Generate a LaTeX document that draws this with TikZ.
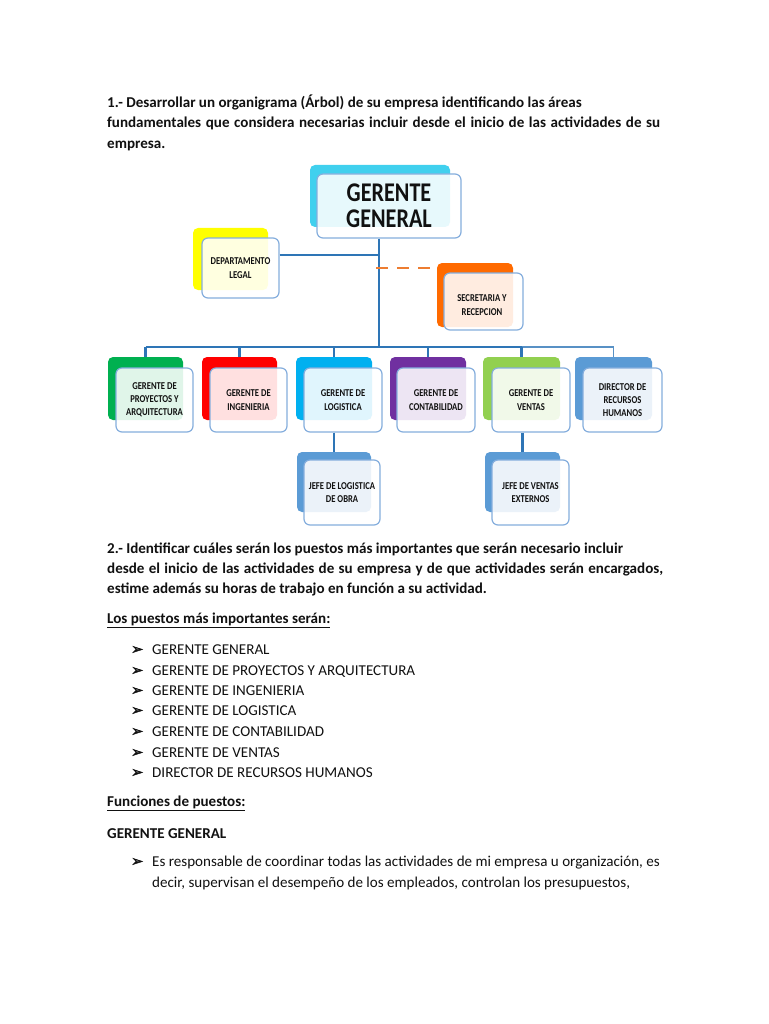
\documentclass[tikz,border=0pt]{standalone}
\usepackage{fontspec}
\setmainfont{Carlito}
\newfontfamily\dejavu[FakeBold=2.5]{DejaVu Sans}
\newfontfamily\condfont[FakeStretch=0.82]{Carlito}
\definecolor{cgg}{HTML}{40D0EE}
\definecolor{cyellow}{HTML}{FFFF00}
\definecolor{corange}{HTML}{FF6A00}
\definecolor{cgreen}{HTML}{00B050}
\definecolor{cred}{HTML}{FF0000}
\definecolor{cblue}{HTML}{00B0F0}
\definecolor{cpurple}{HTML}{7030A0}
\definecolor{clgreen}{HTML}{92D050}
\definecolor{csteel}{HTML}{5B9BD5}
\definecolor{cline}{HTML}{2E75B6}
\definecolor{cborder}{HTML}{85AEDD}
\definecolor{cdash}{HTML}{ED7D31}
\definecolor{ctext}{HTML}{111111}
\begin{document}
\begin{tikzpicture}[x=1pt,y=-1pt,
  backbox/.style={rounded corners=5pt, inner sep=0pt, draw=none},
  frontbox/.style={draw=cborder, line width=1.2pt, fill=white, fill opacity=0.88, text opacity=1,
    rounded corners=6pt, align=center, inner sep=1pt, text=ctext,
    font=\condfont\bfseries\fontsize{10.5}{13.2}\selectfont},
  conn/.style={draw=cline, line width=2.6pt},
  connthin/.style={draw=cline!80, line width=1.6pt},
  dashconn/.style={draw=cdash, line width=1.8pt, dash pattern=on 12pt off 9pt},
  txt/.style={anchor=base west, inner sep=0pt, text=ctext, font=\fontsize{15.06}{18}\selectfont},
  btxt/.style={txt, font=\bfseries\fontsize{15.06}{18}\selectfont},
  bul/.style={anchor=base west, inner sep=0pt, text=ctext, font=\dejavu\fontsize{14.5}{16}\selectfont}
]
\useasboundingbox (0,0) rectangle (768,1024);
\fill[white] (0,0) rectangle (768,1024);

% ---------- header text ----------
\node[btxt] (p1a) at (107,108) {1.- Desarrollar un organigrama (Árbol) de su empresa identificando las áreas};
\node[btxt] (p1b) at (107,128) {\makebox[553pt][s]{fundamentales que considera necesarias incluir desde el inicio de las actividades de su}};
\node[btxt] (p1c) at (107,149) {empresa.};

% ---------- back boxes ----------
\node[backbox, fill=cgg, minimum width=140pt, minimum height=62pt] (ggback) at (380,196) {};
\node[backbox, fill=cyellow, minimum width=75pt, minimum height=62pt] (legalback) at (230.5,259) {};
\node[backbox, fill=corange, minimum width=76pt, minimum height=64pt] (secback) at (475,295) {};
\node[backbox, fill=cgreen, minimum width=75pt, minimum height=63pt] (b1back) at (145.5,388.5) {};
\node[backbox, fill=cred, minimum width=75pt, minimum height=63pt] (b2back) at (239.5,388.5) {};
\node[backbox, fill=cblue, minimum width=76pt, minimum height=63pt] (b3back) at (334,388.5) {};
\node[backbox, fill=cpurple, minimum width=76pt, minimum height=63pt] (b4back) at (428,388.5) {};
\node[backbox, fill=clgreen, minimum width=77pt, minimum height=63pt] (b5back) at (521.5,388.5) {};
\node[backbox, fill=csteel, minimum width=77pt, minimum height=63pt] (b6back) at (613.5,388.5) {};
\node[backbox, fill=csteel, minimum width=74pt, minimum height=60pt] (c1back) at (334,482) {};
\node[backbox, fill=csteel, minimum width=75pt, minimum height=60pt] (c2back) at (522.5,482) {};

% ---------- front boxes ----------
\node[frontbox, minimum width=144pt, minimum height=64pt,
  font=\condfont\bfseries\fontsize{27}{26}\selectfont] (gg) at (389,206) {GERENTE\\GENERAL};
\node[frontbox, minimum width=77pt, minimum height=60pt] (legal) at (240.5,268) {DEPARTAMENTO\\LEGAL};
\node[frontbox, minimum width=79pt, minimum height=57pt] (sec) at (483.5,301.5) {};
\node[inner sep=0pt, align=center, text=ctext, font=\condfont\bfseries\fontsize{10.5}{13.2}\selectfont] (sectext) at (482,305) {SECRETARIA Y\\RECEPCION};
\node[frontbox, minimum width=77pt, minimum height=64pt] (b1) at (154.5,400) {GERENTE DE\\PROYECTOS Y\\ARQUITECTURA};
\node[frontbox, minimum width=77pt, minimum height=64pt] (b2) at (248.5,400) {GERENTE DE\\INGENIERIA};
\node[frontbox, minimum width=78pt, minimum height=64pt] (b3) at (343,400) {GERENTE DE\\LOGISTICA};
\node[frontbox, minimum width=78pt, minimum height=64pt] (b4) at (436,400) {GERENTE DE\\CONTABILIDAD};
\node[frontbox, minimum width=78pt, minimum height=64pt] (b5) at (531,400) {GERENTE DE\\VENTAS};
\node[frontbox, minimum width=79pt, minimum height=64pt] (b6) at (622.5,400) {DIRECTOR DE\\RECURSOS\\HUMANOS};
\node[frontbox, minimum width=76pt, minimum height=65pt] (c1) at (342,492.5) {JEFE DE LOGISTICA\\DE OBRA};
\node[frontbox, minimum width=77pt, minimum height=65pt] (c2) at (530.5,492.5) {JEFE DE VENTAS\\EXTERNOS};

% ---------- connectors ----------
\coordinate (trunk) at (379,347);
\coordinate (jl) at (379,255);
\coordinate (jd) at (376,268);
\draw[conn, line width=2.2pt] (gg.south -| trunk) -- (trunk);
\draw[conn, line width=2pt] (legal.east |- jl) -- (jl);
\draw[dashconn] (jd) -- (secback.west |- jd);
\draw[conn] (b1back.north |- trunk) -- (b5back.north |- trunk);
\draw[connthin] (b5back.north |- trunk) -- (b6back.north |- trunk) -- (b6back.north);
\draw[conn] (b1back.north |- trunk) -- (b1back.north);
\draw[conn] (b2back.north |- trunk) -- (b2back.north);
\draw[conn] (b3back.north |- trunk) -- (b3back.north);
\draw[conn] (b4back.north |- trunk) -- (b4back.north);
\draw[conn] (b5back.north |- trunk) -- (b5back.north);
\draw[conn] (c1back.north |- b3.south) -- (c1back.north);
\draw[conn] (c2back.north |- b5.south) -- (c2back.north);

% ---------- section 2 ----------
\node[btxt] (p2a) at (107,553) {2.- Identificar cuáles serán los puestos más importantes que serán necesario incluir};
\node[btxt] (p2b) at (107,573) {\makebox[556pt][s]{desde el inicio de las actividades de su empresa y de que actividades serán encargados,}};
\node[btxt] (p2c) at (107,593) {estime además su horas de trabajo en función a su actividad.};
\node[btxt] (h1) at (107,623) {\underline{Los puestos más importantes serán:}};

\node[bul] (u1) at (131,654) {➢}; \node[txt] (l1) at (152,654) {GERENTE GENERAL};
\node[bul] (u2) at (131,675) {➢}; \node[txt] (l2) at (152,675) {GERENTE DE PROYECTOS Y ARQUITECTURA};
\node[bul] (u3) at (131,695) {➢}; \node[txt] (l3) at (152,695) {GERENTE DE INGENIERIA};
\node[bul] (u4) at (131,715) {➢}; \node[txt] (l4) at (152,715) {GERENTE DE LOGISTICA};
\node[bul] (u5) at (131,736) {➢}; \node[txt] (l5) at (152,736) {GERENTE DE CONTABILIDAD};
\node[bul] (u6) at (131,757) {➢}; \node[txt] (l6) at (152,757) {GERENTE DE VENTAS};
\node[bul] (u7) at (131,777) {➢}; \node[txt] (l7) at (152,777) {DIRECTOR DE RECURSOS HUMANOS};

\node[btxt] (h2) at (107,806) {\underline{Funciones de puestos:}};
\node[btxt] (h3) at (107,838) {GERENTE GENERAL};
\node[bul] (u8) at (131,866) {➢};
\node[txt] (f1) at (152,866) {Es responsable de coordinar todas las actividades de mi empresa u organización, es};
\node[txt] (f2) at (152,887) {decir, supervisan el desempeño de los empleados, controlan los presupuestos,};
\end{tikzpicture}
\end{document}
